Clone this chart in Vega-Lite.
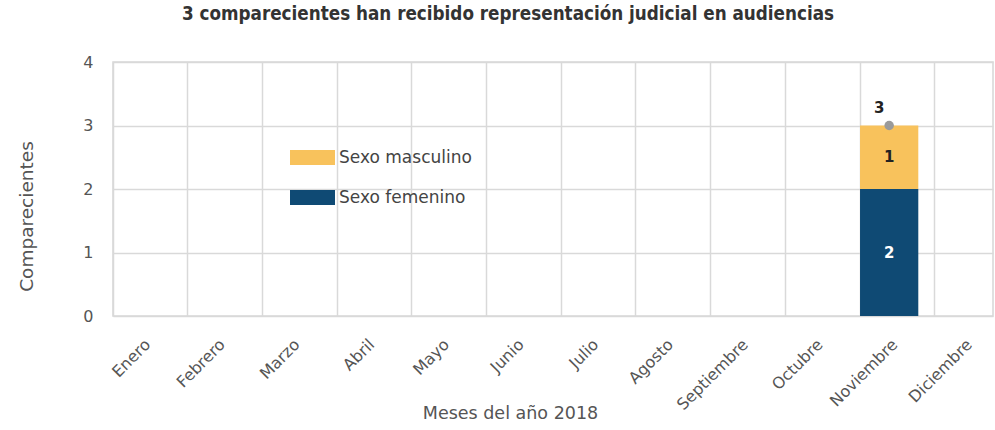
{
  "$schema": "https://vega.github.io/schema/vega-lite/v6.json",
  "autosize": "none",
  "width": 880,
  "height": 254,
  "padding": {"left": 113, "top": 62, "right": 2, "bottom": 114},
  "background": "white",
  "config": {
    "view": {"stroke": "#d6d6d6", "strokeWidth": 1.5},
    "font": "DejaVu Sans"
  },
  "title": {
    "text": "3 comparecientes han recibido representación judicial en audiencias",
    "font": "DejaVu Sans Condensed",
    "fontSize": 18.7,
    "fontWeight": "bold",
    "color": "#333333",
    "anchor": "middle",
    "dx": -45,
    "offset": 30
  },
  "data": {
    "values": [
      {"mes": "Enero", "sexo": "Sexo femenino", "valor": 0},
      {"mes": "Febrero", "sexo": "Sexo femenino", "valor": 0},
      {"mes": "Marzo", "sexo": "Sexo femenino", "valor": 0},
      {"mes": "Abril", "sexo": "Sexo femenino", "valor": 0},
      {"mes": "Mayo", "sexo": "Sexo femenino", "valor": 0},
      {"mes": "Junio", "sexo": "Sexo femenino", "valor": 0},
      {"mes": "Julio", "sexo": "Sexo femenino", "valor": 0},
      {"mes": "Agosto", "sexo": "Sexo femenino", "valor": 0},
      {"mes": "Septiembre", "sexo": "Sexo femenino", "valor": 0},
      {"mes": "Octubre", "sexo": "Sexo femenino", "valor": 0},
      {"mes": "Noviembre", "sexo": "Sexo femenino", "valor": 2},
      {"mes": "Noviembre", "sexo": "Sexo masculino", "valor": 1},
      {"mes": "Diciembre", "sexo": "Sexo femenino", "valor": 0}
    ]
  },
  "transform": [
    {"stack": "valor", "groupby": ["mes"], "sort": [{"field": "sexo", "order": "ascending"}], "as": ["v0", "v1"]},
    {"calculate": "(datum.v0 + datum.v1) / 2", "as": "vmid"}
  ],
  "encoding": {
    "x": {
      "field": "mes",
      "type": "nominal",
      "scale": {"domain": ["Enero","Febrero","Marzo","Abril","Mayo","Junio","Julio","Agosto","Septiembre","Octubre","Noviembre","Diciembre"], "paddingInner": 0.22, "paddingOuter": 0},
      "axis": {
        "title": "Meses del año 2018",
        "titleFont": "DejaVu Sans",
        "titleFontSize": 17.5,
        "titleFontWeight": "normal",
        "titleColor": "#555555",
        "titleX": 397,
        "titleY": 102,
        "titleBaseline": "alphabetic",
        "labelAngle": -45,
        "labelFont": "DejaVu Sans",
        "labelFontSize": 16,
        "labelColor": "#555555",
        "labelPadding": 20,
        "ticks": false,
        "domain": false,
        "grid": true,
        "bandPosition": 0,
        "gridColor": "#d9d9d9",
        "gridWidth": 1.5
      }
    }
  },
  "layer": [
    {
      "mark": {"type": "bar"},
      "encoding": {
        "y": {
          "field": "v0",
          "type": "quantitative",
          "scale": {"domain": [0, 4]},
          "axis": {
            "title": "Comparecientes",
            "titleFont": "DejaVu Sans",
            "titleFontSize": 18.5,
            "titleFontWeight": "normal",
            "titleColor": "#555555",
            "titlePadding": 46,
            "titleY": 154,
            "values": [0, 1, 2, 3, 4],
            "format": "d",
            "labelFont": "DejaVu Sans",
            "labelFontSize": 16,
            "labelColor": "#555555",
            "labelPadding": 20,
            "ticks": false,
            "domain": false,
            "gridColor": "#d9d9d9",
            "gridWidth": 1.5
          }
        },
        "y2": {"field": "v1"},
        "color": {
          "field": "sexo",
          "type": "nominal",
          "scale": {"domain": ["Sexo masculino", "Sexo femenino"], "range": ["#f8c25c", "#0f4a74"]},
          "legend": {
            "title": null,
            "orient": "none",
            "legendX": 177,
            "legendY": 73,
            "symbolType": "M-1,-0.33H1V0.33H-1Z",
            "symbolSize": 2025,
            "symbolStrokeWidth": 0,
            "labelFontSize": 17,
            "labelColor": "#444444",
            "labelFont": "DejaVu Sans",
            "rowPadding": 9,
            "labelOffset": 4
          }
        }
      }
    },
    {
      "transform": [{"filter": "datum.valor > 0"}],
      "mark": {"type": "text", "fontSize": 15, "fontWeight": "bold", "baseline": "middle"},
      "encoding": {
        "y": {"field": "vmid", "type": "quantitative"},
        "text": {"field": "valor", "type": "quantitative"},
        "color": {
          "condition": {"test": "datum.sexo == 'Sexo femenino'", "value": "white"},
          "value": "#222222"
        }
      }
    },
    {
      "transform": [{"filter": "datum.sexo == 'Sexo masculino'"}],
      "mark": {"type": "point", "filled": true, "color": "#9a9a9a", "size": 90, "opacity": 1},
      "encoding": {
        "y": {"field": "v1", "type": "quantitative"}
      }
    },
    {
      "transform": [{"filter": "datum.sexo == 'Sexo masculino'"}],
      "mark": {"type": "text", "fontSize": 15, "fontWeight": "bold", "color": "#222222", "dx": -10, "dy": -18},
      "encoding": {
        "y": {"field": "v1", "type": "quantitative"},
        "text": {"field": "v1", "type": "quantitative"}
      }
    }
  ]
}
